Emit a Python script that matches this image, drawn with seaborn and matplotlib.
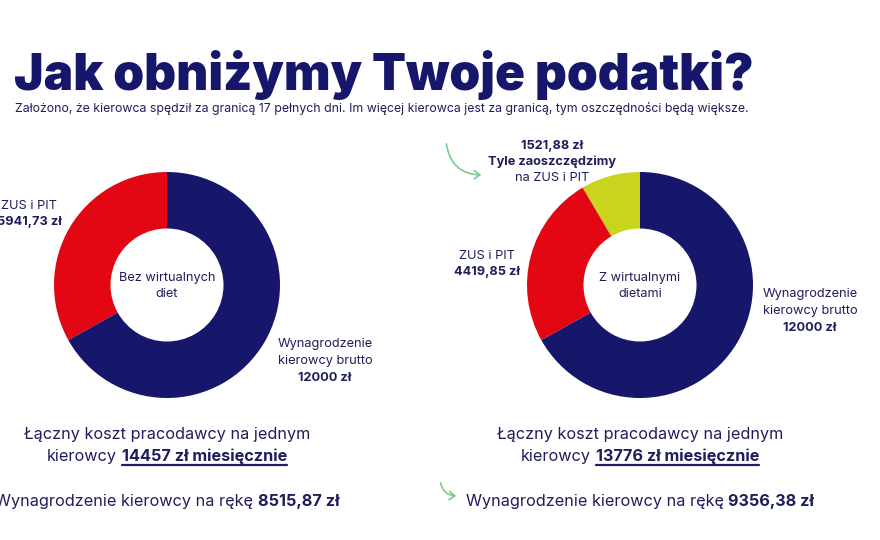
import seaborn as sns
import matplotlib.pyplot as plt
from matplotlib.patches import FancyArrowPatch

# data
left_segments = ['ZUS i PIT', 'Wynagrodzenie kierowcy brutto']
left_values = [5941.73, 12000]
right_segments = ['Oszczędność', 'ZUS i PIT', 'Wynagrodzenie kierowcy brutto']
right_values = [1521.88, 4419.85, 12000]
employer_cost = [14457, 13776]
net_salary = [8515.87, 9356.38]

NAVY = '#16166B'
RED = '#E30613'
YELLOW = '#C9D41E'
GREEN = '#7DCB89'
TXT = '#1E1E5C'
W, H = 880, 540

sns.set_style('white')
plt.rcParams['font.family'] = ['Inter', 'DejaVu Sans']

fig = plt.figure(figsize=(W / 100, H / 100), dpi=100)
fig.patch.set_facecolor('white')
renderer = fig.canvas.get_renderer()


def fx(x):
    return x / W


def fy(y):
    return 1 - y / H


def pln(v):
    s = f'{v:.2f}'.replace('.', ',')
    return s[:-3] if s.endswith(',00') else s


def label(x, y, s, size=9.2, weight='normal', ha='center'):
    return fig.text(fx(x), fy(y), s, fontsize=size, fontweight=weight,
                    color=TXT, ha=ha, va='baseline')


def fit_width(t, target):
    # scale font so the text spans the same width as in the picture
    w = t.get_window_extent(renderer).width
    t.set_fontsize(t.get_fontsize() * target / w)


def donut(cx, cy, r, values, colors, center_lines):
    ax = fig.add_axes([fx(cx - r), fy(cy + r), 2 * r / W, 2 * r / H])
    ax.pie(values, colors=colors, startangle=90, counterclock=True,
           wedgeprops=dict(width=0.5, edgecolor='none'))
    ax.set_xlim(-1, 1)
    ax.set_ylim(-1, 1)
    ax.set_axis_off()
    label(cx, cy - 4, center_lines[0])
    label(cx, cy + 12, center_lines[1])
    return ax


def rich_line(cx, y, parts, size):
    # parts: (text, weight, underline); drawn centered around cx
    texts = []
    for s, wgt, ul in parts:
        t = fig.text(0, fy(y), s, fontsize=size, fontweight=wgt, color=TXT,
                     va='baseline', ha='left')
        texts.append((t, ul))
    probe1 = fig.text(0, 0, 'x x', fontsize=size)
    probe2 = fig.text(0, 0, 'xx', fontsize=size)
    gap = (probe1.get_window_extent(renderer).width
           - probe2.get_window_extent(renderer).width)
    probe1.remove()
    probe2.remove()
    widths = [t.get_window_extent(renderer).width for t, _ in texts]
    total = sum(widths) + gap * (len(widths) - 1)
    x = cx - total / 2
    for (t, ul), w in zip(texts, widths):
        t.set_x(fx(x))
        if ul:
            fig.add_artist(plt.Line2D([fx(x), fx(x + w)], [fy(y + 4)] * 2,
                                      color=TXT, lw=1.6))
        x += w + gap


def curved_arrow(x0, y0, x1, y1, rad):
    fig.add_artist(FancyArrowPatch(
        (fx(x0), fy(y0)), (fx(x1), fy(y1)), transform=fig.transFigure,
        connectionstyle=f'arc3,rad={rad}', arrowstyle='->,head_length=4,head_width=3',
        color=GREEN, lw=1.2))


# header
title = fig.text(fx(14), fy(90), 'Jak obniżymy Twoje podatki?', fontsize=33,
                 fontweight='black', color=NAVY, va='baseline')
fit_width(title, 738)
sub = fig.text(fx(15), fy(112),
               'Założono, że kierowca spędził za granicą 17 pełnych dni. '
               'Im więcej kierowca jest za granicą, tym oszczędności będą większe.',
               fontsize=7.6, color=TXT, va='baseline')
fit_width(sub, 737)

# left donut
donut(167, 285, 113, left_values, [RED, NAVY], ['Bez wirtualnych', 'diet'])
label(29, 209, left_segments[0])
label(29, 225, f'{pln(left_values[0])} zł', weight='bold')
label(325, 347, 'Wynagrodzenie')
label(325, 364, 'kierowcy brutto')
label(325, 381, f'{pln(left_values[1])} zł', weight='bold')

# right donut
donut(640, 285, 113, right_values, [YELLOW, RED, NAVY], ['Z wirtualnymi', 'dietami'])
label(552, 149, f'{pln(right_values[0])} zł', weight='bold')
label(552, 165, 'Tyle zaoszczędzimy', weight='bold')
label(552, 181, 'na ZUS i PIT')
label(487, 259, right_segments[1])
label(487, 275, f'{pln(right_values[1])} zł', weight='bold')
label(810, 297, 'Wynagrodzenie')
label(810, 314, 'kierowcy brutto')
label(810, 331, f'{pln(right_values[2])} zł', weight='bold')
curved_arrow(446, 141, 484, 175, 0.45)

# bottom summaries
for cx, cost, net in zip([167, 640], employer_cost, net_salary):
    rich_line(cx, 439, [('Łączny koszt pracodawcy na jednym', 'normal', False)], 11.7)
    rich_line(cx, 461, [('kierowcy', 'normal', False),
                        (f'{cost} zł miesięcznie', 'bold', True)], 11.7)
    rich_line(cx, 506, [('Wynagrodzenie kierowcy na rękę', 'normal', False),
                        (f'{pln(net)} zł', 'bold', False)], 11.7)
curved_arrow(440, 480, 459, 496, 0.45)

fig.savefig('out.png', dpi=100, facecolor='white')
